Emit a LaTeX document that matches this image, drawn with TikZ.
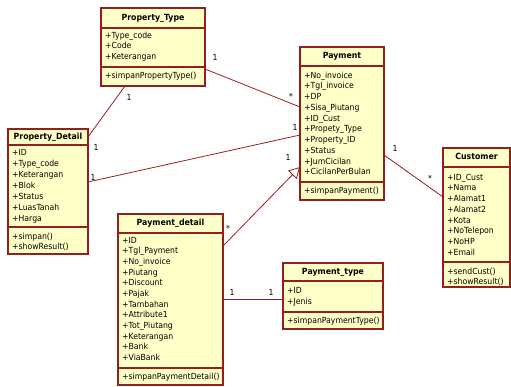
\documentclass[tikz,border=0pt]{standalone}
\usepackage{fontspec}
\setmainfont{DejaVu Sans}[FakeStretch=0.92]
\usetikzlibrary{calc,arrows.meta}
\definecolor{umlred}{RGB}{150,30,30}
\definecolor{umlfill}{RGB}{255,255,200}

% class frame: name, left, top, width, height, first divider, second divider, title
\newcommand\umlframe[8]{%
  \node[classbox, minimum width=#4pt, minimum height=#5pt] (#1) at (#2,#3) {};
  \draw[divider] ($(#1.north west)+(0,#6)$) -- ($(#1.north east)+(0,#6)$);
  \draw[divider] ($(#1.north west)+(0,#7)$) -- ($(#1.north east)+(0,#7)$);
  \node[classtitle] (#1-title) at ($(#1.north)+(0,#6/2)$) {#8};
}
% member lines: class name, offset of first line, line spacing, list
\newcommand\umlmembers[4]{%
  \foreach \t [count=\i from 0] in {#4}
    \node[member] at ($(#1.north west)+(4,#2+\i*#3)$) {\t};
}

\begin{document}
\begin{tikzpicture}[x=1pt,y=-1pt,
  classbox/.style={draw=umlred, fill=umlfill, line width=1.1pt, inner sep=0pt,
                   outer sep=0pt, anchor=north west},
  divider/.style={draw=umlred, line width=1.1pt},
  classtitle/.style={font=\fontsize{8.5}{10}\selectfont\bfseries, inner sep=0pt,
                     text height=6.3pt, text depth=1.8pt},
  member/.style={font=\fontsize{8.4}{10}\selectfont, anchor=west, inner sep=0pt,
                 text height=6.3pt, text depth=1.8pt},
  assoc/.style={draw=umlred, line width=0.8pt},
  mult/.style={font=\fontsize{8.4}{10}\selectfont, inner sep=0pt}]

\useasboundingbox (0,0) rectangle (511,387);

% Property_Type
\umlframe{pt}{101}{8}{104}{78}{20}{59}{Property\_Type}
\umlmembers{pt}{28}{10.5}{+Type\_code,+Code,+Keterangan}
\umlmembers{pt}{68}{10.5}{+simpanPropertyType()}

% Payment
\umlframe{pay}{300}{47}{84}{153}{19}{135}{Payment}
\umlmembers{pay}{29}{10.75}{+No\_invoice,+Tgl\_invoice,+DP,+Sisa\_Piutang,+ID\_Cust,+Propety\_Type,+Property\_ID,+Status,+JumCicilan,+CicilanPerBulan}
\umlmembers{pay}{144}{10.75}{+simpanPayment()}

% Property_Detail
\umlframe{pd}{8}{129}{80}{125}{16}{98}{Property\_Detail}
\umlmembers{pd}{24}{11}{+ID,+Type\_code,+Keterangan,+Blok,+Status,+LuasTanah,+Harga}
\umlmembers{pd}{108}{10}{+simpan(),+showResult()}

% Payment_detail
\umlframe{pdt}{118}{214}{105}{171}{19}{154}{Payment\_detail}
\umlmembers{pdt}{27}{10.64}{+ID,+Tgl\_Payment,+No\_invoice,+Piutang,+Discount,+Pajak,+Tambahan,+Attribute1,+Tot\_Piutang,+Keterangan,+Bank,+ViaBank}
\umlmembers{pdt}{163}{10.64}{+simpanPaymentDetail()}

% Customer
\umlframe{cu}{443}{148}{67}{139}{19}{114}{Customer}
\umlmembers{cu}{30}{10.7}{+ID\_Cust,+Nama,+Alamat1,+Alamat2,+Kota,+NoTelepon,+NoHP,+Email}
\umlmembers{cu}{124}{9.8}{+sendCust(),+showResult()}

% Payment_type
\umlframe{pty}{283}{263}{100}{66}{18}{49}{Payment\_type}
\umlmembers{pty}{28}{11}{+ID,+Jenis}
\umlmembers{pty}{58}{11}{+simpanPaymentType()}

% associations
\draw[assoc] ($(pt.north west)+(24,78)$) -- ($(pd.north west)+(80,8)$);
\draw[assoc] ($(pt.north west)+(104,61)$) -- ($(pay.north west)+(0,60)$);
\draw[assoc] ($(pd.north west)+(80,53)$) -- ($(pay.north west)+(0,88)$);
\draw[assoc, -{Triangle[open, length=11pt, width=12pt]}]
  ($(pdt.north west)+(105,32)$) -- ($(pay.north west)+(0,120)$);
\draw[assoc] ($(pay.north west)+(84,108)$) -- ($(cu.north west)+(0,49)$);
\draw[assoc] ($(pdt.north west)+(105,85)$) -- ($(pty.north west)+(0,36)$);

% multiplicities
\node[mult] (m1) at (129,97) {1};
\node[mult] (m2) at (96,147) {1};
\node[mult] (m3) at (215,57) {1};
\node[mult] (m4) at (291,96) {*};
\node[mult] (m5) at (93,177) {1};
\node[mult] (m6) at (295,127) {1};
\node[mult] (m7) at (288,157) {1};
\node[mult] (m8) at (228,228) {*};
\node[mult] (m9) at (395,148) {1};
\node[mult] (m10) at (430,178) {*};
\node[mult] (m11) at (232,292) {1};
\node[mult] (m12) at (271,292) {1};
\end{tikzpicture}
\end{document}
